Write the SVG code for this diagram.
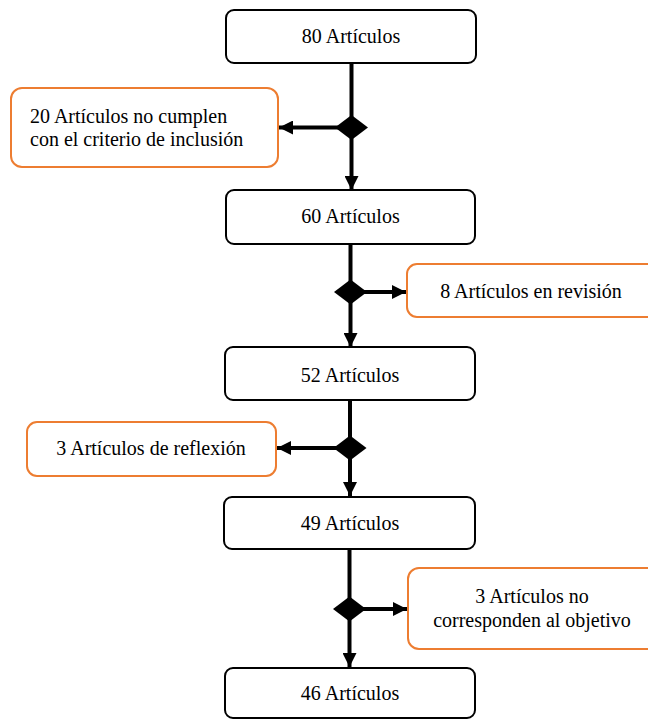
<svg xmlns="http://www.w3.org/2000/svg" width="648" height="720" viewBox="0 0 648 720" font-family="Liberation Serif, Times New Roman, serif">
<style>
.main{fill:#fff;stroke:#000;stroke-width:2}
.side{fill:#fff;stroke:#ED7D31;stroke-width:2}
text{font-size:20px;fill:#000}
.c{text-anchor:middle}
.ln{stroke:#000;stroke-width:4;fill:none}
.dia{fill:#000}
</style>
<defs>
<marker id="ah" markerUnits="userSpaceOnUse" markerWidth="14" markerHeight="14" refX="14" refY="7" orient="auto">
<path d="M0,0 L14,7 L0,14 z" fill="#000"/>
</marker>
</defs>
<rect width="648" height="720" fill="#fff"/>
<g id="connectors">
<line class="ln" x1="351.5" y1="63" x2="351.5" y2="190" marker-end="url(#ah)"/>
<line class="ln" x1="351.5" y1="127.5" x2="279" y2="127.5" marker-end="url(#ah)"/>
<path class="dia" d="M335,127.5 L351.5,115 L368,127.5 L351.5,140 z"/>
<line class="ln" x1="350.5" y1="244" x2="350.5" y2="347" marker-end="url(#ah)"/>
<line class="ln" x1="350.5" y1="292" x2="406" y2="292" marker-end="url(#ah)"/>
<path class="dia" d="M334,292 L350.5,279.5 L367,292 L350.5,304.5 z"/>
<line class="ln" x1="350" y1="400" x2="350" y2="496" marker-end="url(#ah)"/>
<line class="ln" x1="350" y1="448" x2="277" y2="448" marker-end="url(#ah)"/>
<path class="dia" d="M333.5,448 L350,435.5 L366.5,448 L350,460.5 z"/>
<line class="ln" x1="349.5" y1="549" x2="349.5" y2="667" marker-end="url(#ah)"/>
<line class="ln" x1="349.5" y1="609" x2="407" y2="609" marker-end="url(#ah)"/>
<path class="dia" d="M333,609 L349.5,596.5 L366,609 L349.5,621.5 z"/>
</g>
<g id="n80">
<rect class="main" x="226" y="10" width="250" height="53" rx="8"/>
<text class="c" x="351" y="43">80 Artículos</text>
</g>
<g id="excl20">
<rect class="side" x="11" y="88" width="267" height="79" rx="11"/>
<text x="30" y="122.5">20 Artículos no cumplen</text>
<text x="30" y="145.5">con el criterio de inclusión</text>
</g>
<g id="n60">
<rect class="main" x="226" y="190" width="249" height="54" rx="8"/>
<text class="c" x="350.5" y="223">60 Artículos</text>
</g>
<g id="rev8">
<rect class="side" x="407" y="264" width="250" height="53" rx="10"/>
<text class="c" x="531" y="298">8 Artículos en revisión</text>
</g>
<g id="n52">
<rect class="main" x="225" y="347" width="250" height="53" rx="8"/>
<text class="c" x="350" y="382">52 Artículos</text>
</g>
<g id="refl3">
<rect class="side" x="27" y="422" width="249" height="54" rx="10"/>
<text class="c" x="151" y="455">3 Artículos de reflexión</text>
</g>
<g id="n49">
<rect class="main" x="224" y="497" width="251" height="52" rx="8"/>
<text class="c" x="350" y="530">49 Artículos</text>
</g>
<g id="obj3">
<rect class="side" x="408" y="568" width="250" height="81" rx="11"/>
<text class="c" x="532" y="603">3 Artículos no</text>
<text class="c" x="532" y="627">corresponden al objetivo</text>
</g>
<g id="n46">
<rect class="main" x="225" y="668" width="250" height="50" rx="8"/>
<text class="c" x="350" y="700">46 Artículos</text>
</g>
</svg>
